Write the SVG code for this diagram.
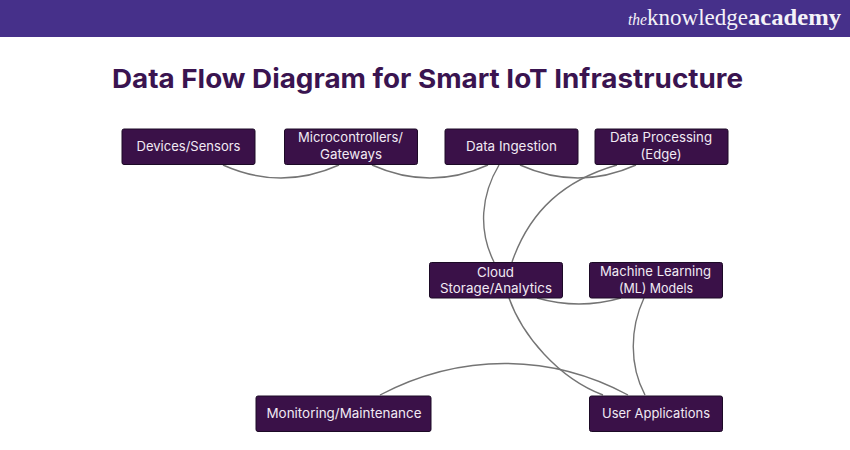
<svg xmlns="http://www.w3.org/2000/svg" width="850" height="450" viewBox="0 0 850 450">
<style>
.b{fill:#3a1148;stroke:#1c0a26;stroke-width:1}
.t{font-family:"Inter","Liberation Sans",sans-serif;font-size:13px;fill:#f1eaf4;text-anchor:middle}
.c{fill:none;stroke:#747474;stroke-width:1.4}
.l{font-family:"Liberation Serif",serif;fill:#f4f2f8}
</style>
<rect width="850" height="450" fill="#ffffff"/>
<g id="header">
<rect width="850" height="37" fill="#46308a"/>
<text class="l" x="628" y="25" font-size="16" font-style="italic" textLength="19" lengthAdjust="spacingAndGlyphs">the</text>
<text class="l" x="647" y="25" font-size="23" textLength="101" lengthAdjust="spacingAndGlyphs">knowledge</text>
<text class="l" x="748" y="25" font-size="23" font-weight="bold" textLength="93" lengthAdjust="spacingAndGlyphs">academy</text>
</g>
<text id="title" x="427.500" y="88" font-family="Inter,'Liberation Sans',sans-serif" font-size="26" font-weight="700" fill="#3a1450" text-anchor="middle" textLength="631" lengthAdjust="spacingAndGlyphs">Data Flow Diagram for Smart IoT Infrastructure</text>
<g id="connectors">
<path class="c" d="M223 165Q281 191 339 165"/>
<path class="c" d="M372 165Q430 191 488 165"/>
<path class="c" d="M520 165Q578 191 636 165"/>
<path class="c" d="M617 165C565 180 530 210 512 262"/>
<path class="c" d="M499 165C481 195 478 230 494 262"/>
<path class="c" d="M509 298C522 335 558 378 603 395"/>
<path class="c" d="M537 298Q579 310 621 298"/>
<path class="c" d="M644 298C630 328 629 365 645 395"/>
<path class="c" d="M380 395C460 353 550 353 628 395"/>
</g>
<g id="devices"><rect class="b" x="122" y="129" width="133" height="35.500" rx="2"/><text class="t" x="188.500" y="151.300" textLength="104" lengthAdjust="spacingAndGlyphs">Devices/Sensors</text></g>
<g id="gateways"><rect class="b" x="284.500" y="129" width="133" height="35.500" rx="2"/><text class="t" x="350.500" y="142.300" textLength="105" lengthAdjust="spacingAndGlyphs">Microcontrollers/</text><text class="t" x="351" y="159" textLength="62" lengthAdjust="spacingAndGlyphs">Gateways</text></g>
<g id="ingestion"><rect class="b" x="445" y="129" width="133" height="35.500" rx="2"/><text class="t" x="511.500" y="151.300" textLength="91" lengthAdjust="spacingAndGlyphs">Data Ingestion</text></g>
<g id="processing"><rect class="b" x="595" y="129" width="133" height="35.500" rx="2"/><text class="t" x="661" y="142.300" textLength="102" lengthAdjust="spacingAndGlyphs">Data Processing</text><text class="t" x="661" y="159" textLength="41" lengthAdjust="spacingAndGlyphs">(Edge)</text></g>
<g id="cloud"><rect class="b" x="429.500" y="262.500" width="133" height="35.500" rx="2"/><text class="t" x="495.500" y="276.500" textLength="37" lengthAdjust="spacingAndGlyphs">Cloud</text><text class="t" x="496" y="293.300" textLength="112" lengthAdjust="spacingAndGlyphs">Storage/Analytics</text></g>
<g id="ml"><rect class="b" x="589.500" y="262.500" width="133" height="35.500" rx="2"/><text class="t" x="655.500" y="275.700" textLength="111" lengthAdjust="spacingAndGlyphs">Machine Learning</text><text class="t" x="656" y="293.300" textLength="74" lengthAdjust="spacingAndGlyphs">(ML) Models</text></g>
<g id="monitoring"><rect class="b" x="256" y="396" width="175" height="35.500" rx="2"/><text class="t" x="344" y="417.700" textLength="155" lengthAdjust="spacingAndGlyphs">Monitoring/Maintenance</text></g>
<g id="user"><rect class="b" x="589.500" y="396" width="133" height="35.500" rx="2"/><text class="t" x="656" y="417.700" textLength="108" lengthAdjust="spacingAndGlyphs">User Applications</text></g>
</svg>
